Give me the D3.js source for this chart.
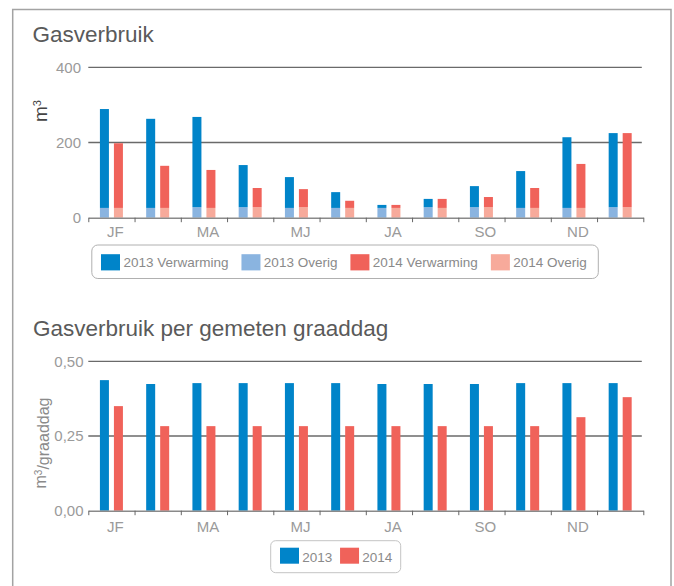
<!DOCTYPE html>
<html>
<head>
<meta charset="utf-8">
<script src="https://cdn.jsdelivr.net/npm/d3@7"></script>
<style>
  html, body { margin: 0; padding: 0; background: #fff; }
  svg { display: block; font-family: "Liberation Sans", Arial, sans-serif; }
</style>
</head>
<body>
<svg id="chart" width="674" height="586"></svg>
<script>
// ---- data ----
const monthKeys = ["jan","feb","mrt","apr","mei","jun","jul","aug","sep","okt","nov","dec"];
const monthLabels = ["JF","","MA","","MJ","","JA","","SO","","ND",""];
const years = ["2013","2014"];

const verwarming2013 = [263, 237, 240, 112, 82, 42, 8, 22, 56, 98, 188, 197];
const overig2013     = [26, 26, 28, 28, 26, 26, 26, 28, 28, 26, 26, 28];
const verwarming2014 = [172, 112, 101, 51, 48, 19, 8, 24, 27, 53, 117, 197];
const overig2014     = [26, 26, 26, 28, 28, 26, 26, 26, 28, 26, 26, 28];

const graaddag2013 = [0.437, 0.424, 0.427, 0.427, 0.427, 0.427, 0.424, 0.424, 0.424, 0.427, 0.427, 0.427];
const graaddag2014 = [0.350, 0.283, 0.283, 0.283, 0.283, 0.283, 0.283, 0.283, 0.283, 0.283, 0.313, 0.380];

const ticks1 = [0, 200, 400];
const ticks2 = [0, 0.25, 0.5];

const legend1Labels = ["2013 Verwarming", "2013 Overig", "2014 Verwarming", "2014 Overig"];
const legend2Labels = ["2013", "2014"];

// ---- styles ----
const C = {
  v13: "#0084c9", o13: "#8ab4e0", v14: "#f0625a", o14: "#f7aa9b",
  title: "#5a5a5a", tick: "#9a9a9a", grid: "#6a6a6a", axis: "#8a8a8a"
};

const svg = d3.select("#chart");

// frame
svg.append("rect").attr("x", 12.7).attr("y", 9.5).attr("width", 658.3).attr("height", 640)
  .attr("fill", "none").attr("stroke", "#a3a3a3").attr("stroke-width", 1.5);

const x0 = 88.3, x1 = 643.3;
const xBand = d3.scaleBand().domain(monthKeys).range([x0, x1]).padding(0);
const xSub = d3.scaleBand().domain(years).range([0, xBand.bandwidth()])
  .paddingInner(5/14).paddingOuter(0.83);
const xIdx = d3.scaleLinear().domain([0, 12]).range([x0, x1]);

function drawFrame(y, tickVals, fmt, labelX) {
  const g = svg.append("g");
  g.selectAll("line.grid").data(tickVals.filter(t => t !== 0)).join("line")
    .attr("x1", x0).attr("x2", x1 - 1.5)
    .attr("y1", d => y(d)).attr("y2", d => y(d))
    .attr("stroke", C.grid).attr("stroke-width", 1.3);
  g.selectAll("text.ytick").data(tickVals).join("text")
    .attr("x", labelX).attr("y", d => y(d)).attr("dy", "0.35em")
    .attr("text-anchor", "end").attr("fill", C.tick)
    .style("font-size", "15px").text(fmt);
  return g;
}

function drawXAxis(yPos, labelOffset) {
  const gb = svg.append("g").attr("transform", `translate(0,${yPos})`)
    .call(d3.axisBottom(xIdx).tickValues(d3.range(13)).tickFormat("").tickSizeInner(4.5).tickSizeOuter(0));
  gb.select(".domain").attr("stroke", C.axis).attr("stroke-width", 1.4);
  gb.selectAll(".tick line").attr("stroke", "#666").attr("stroke-width", 1);
  const gl = svg.append("g").attr("transform", `translate(0,${yPos})`)
    .call(d3.axisBottom(xBand).tickSize(0).tickFormat((d, i) => monthLabels[i]));
  gl.select(".domain").remove();
  gl.selectAll(".tick text").attr("y", labelOffset).attr("dy", 0).attr("dx", 4)
    .attr("fill", C.tick).style("font-size", "15px")
    .style("font-family", "'Liberation Sans', Arial, sans-serif");
}

// ---- chart 1 ----
svg.append("text").attr("x", 32.5).attr("y", 41.7).attr("fill", C.title)
  .style("font-size", "22.5px").text("Gasverbruik");

const y1 = d3.scaleLinear().domain([0, 400]).range([217.7, 67.3]);
drawFrame(y1, ticks1, d => String(d), 81);

const stackData = monthKeys.map((m, i) => ({
  m,
  bars: [
    { year: "2013", overig: overig2013[i], verw: verwarming2013[i], cO: C.o13, cV: C.v13 },
    { year: "2014", overig: overig2014[i], verw: verwarming2014[i], cO: C.o14, cV: C.v14 }
  ]
}));

const mg1 = svg.append("g").selectAll("g").data(stackData).join("g")
  .attr("transform", d => `translate(${xBand(d.m)},0)`);
mg1.selectAll("g.bar").data(d => d.bars).join("g").each(function(b) {
  const g = d3.select(this);
  const bx = xSub(b.year), bw = xSub.bandwidth();
  g.append("rect").attr("x", bx).attr("width", bw)
    .attr("y", y1(b.overig)).attr("height", y1(0) - y1(b.overig)).attr("fill", b.cO);
  g.append("rect").attr("x", bx).attr("width", bw)
    .attr("y", y1(b.overig + b.verw)).attr("height", y1(b.overig) - y1(b.overig + b.verw)).attr("fill", b.cV);
});

drawXAxis(y1(0), 19);

// y title chart 1
const yt1 = svg.append("text").attr("transform", "translate(46.5,111) rotate(-90)")
  .attr("text-anchor", "middle").attr("fill", "#444").style("font-size", "19px");
yt1.append("tspan").text("m");
yt1.append("tspan").attr("dy", "-0.5em").style("font-size", "11px").text("3");

// legend 1
const leg1 = svg.append("g");
leg1.append("rect").attr("x", 91.8).attr("y", 245).attr("width", 506.5).attr("height", 33.5)
  .attr("rx", 6).attr("fill", "#fff").attr("stroke", "#b0b0b0").attr("stroke-width", 1);
const leg1Colors = [C.v13, C.o13, C.v14, C.o14];
let lx = 101;
legend1Labels.forEach((lab, i) => {
  leg1.append("rect").attr("x", lx).attr("y", 254.2).attr("width", 19).attr("height", 16.2).attr("fill", leg1Colors[i]);
  const t = leg1.append("text").attr("x", lx + 22.4).attr("y", 267.3).attr("fill", "#8a8a8a")
    .style("font-size", "13.5px").text(lab);
  lx = lx + 22.4 + t.node().getComputedTextLength() + 13;
});

// ---- chart 2 ----
svg.append("text").attr("x", 33).attr("y", 336.3).attr("fill", C.title)
  .style("font-size", "22.5px").text("Gasverbruik per gemeten graaddag");

const y2 = d3.scaleLinear().domain([0, 0.5]).range([510.7, 361.3]);
const fmt2 = d => d3.format(".2f")(d).replace(".", ",");
drawFrame(y2, ticks2, fmt2, 83.5);

const ratioData = monthKeys.map((m, i) => ({
  m, bars: [
    { year: "2013", v: graaddag2013[i], c: C.v13 },
    { year: "2014", v: graaddag2014[i], c: C.v14 }
  ]
}));
svg.append("g").selectAll("g").data(ratioData).join("g")
  .attr("transform", d => `translate(${xBand(d.m)},0)`)
  .selectAll("rect").data(d => d.bars).join("rect")
  .attr("x", b => xSub(b.year)).attr("width", xSub.bandwidth())
  .attr("y", b => y2(b.v)).attr("height", b => y2(0) - y2(b.v)).attr("fill", b => b.c);

drawXAxis(y2(0), 21);

const yt2 = svg.append("text").attr("transform", "translate(46,443) rotate(-90)")
  .attr("text-anchor", "middle").attr("fill", "#8a8a8a").style("font-size", "16px");
yt2.append("tspan").text("m");
yt2.append("tspan").attr("dy", "-0.45em").style("font-size", "10px").text("3");
yt2.append("tspan").attr("dy", "0.45em").text("/graaddag");

// legend 2
const leg2 = svg.append("g");
leg2.append("rect").attr("x", 270.7).attr("y", 540.7).attr("width", 130).attr("height", 32)
  .attr("rx", 5).attr("fill", "#fff").attr("stroke", "#c4c4c4").attr("stroke-width", 1);
const leg2Colors = [C.v13, C.v14];
let lx2 = 280;
legend2Labels.forEach((lab, i) => {
  leg2.append("rect").attr("x", lx2).attr("y", 547.7).attr("width", 19).attr("height", 16).attr("fill", leg2Colors[i]);
  const t = leg2.append("text").attr("x", lx2 + 22.3).attr("y", 561.5).attr("fill", "#8a8a8a")
    .style("font-size", "13.5px").text(lab);
  lx2 = lx2 + 22.3 + t.node().getComputedTextLength() + 7.7;
});
</script>
</body>
</html>
